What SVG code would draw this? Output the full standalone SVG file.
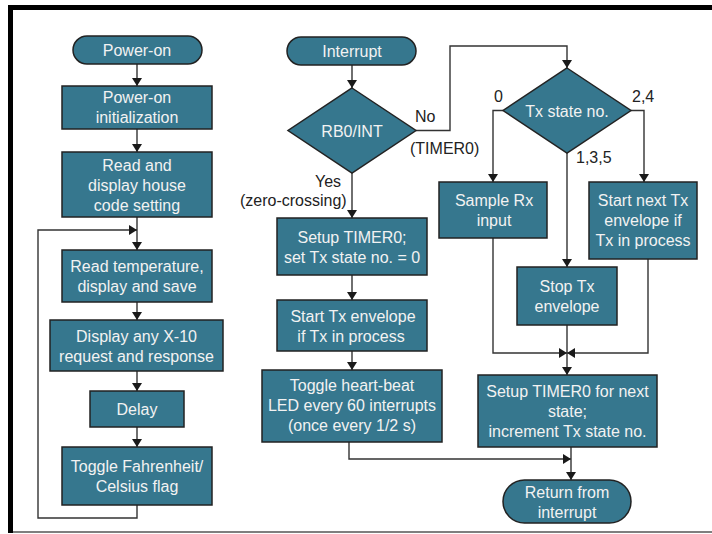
<svg xmlns="http://www.w3.org/2000/svg" width="712" height="534" viewBox="0 0 712 534">
<style>
.box{fill:#36778e;stroke:#222;stroke-width:1.5}
.t{font-family:"Liberation Sans",Arial,sans-serif;font-size:16px;fill:#f2f2f2;text-anchor:middle}
.lbl{font-family:"Liberation Sans",Arial,sans-serif;font-size:16px;fill:#222}
.c{fill:none;stroke:#333;stroke-width:1.4}
</style>
<defs>
<marker id="ah" viewBox="0 0 8 10" refX="8" refY="5" markerWidth="8" markerHeight="10" markerUnits="userSpaceOnUse" orient="auto">
<path d="M0,0 L8,5 L0,10 z" fill="#1a1a1a"/>
</marker>
</defs>
<rect x="0" y="0" width="712" height="534" fill="#fff"/>
<g id="frame">
<rect x="8" y="5" width="704" height="5" fill="#000"/>
<rect x="8" y="5" width="5" height="528" fill="#000"/>
<line x1="13" y1="532" x2="712" y2="532" stroke="#555" stroke-width="1.5"/>
</g>
<g id="connectors">
<path class="c" d="M137,64 V86" marker-end="url(#ah)"/>
<path class="c" d="M137,129 V152" marker-end="url(#ah)"/>
<path class="c" d="M137,217 V250" marker-end="url(#ah)"/>
<path class="c" d="M137,302 V320" marker-end="url(#ah)"/>
<path class="c" d="M137,371 V391" marker-end="url(#ah)"/>
<path class="c" d="M137,427 V447" marker-end="url(#ah)"/>
<path class="c" d="M137,505 V518 H38 V230 H137" marker-end="url(#ah)"/>
<path class="c" d="M352,65 V88" marker-end="url(#ah)"/>
<path class="c" d="M352,173 V218" marker-end="url(#ah)"/>
<path class="c" d="M352,275 V300" marker-end="url(#ah)"/>
<path class="c" d="M352,351 V370" marker-end="url(#ah)"/>
<path class="c" d="M349,442 V459 H571" marker-end="url(#ah)"/>
<path class="c" d="M416,130.5 H450 V46 H567 V68" marker-end="url(#ah)"/>
<path class="c" d="M503,110.5 H493 V182" marker-end="url(#ah)"/>
<path class="c" d="M631,110.5 H644 V182" marker-end="url(#ah)"/>
<path class="c" d="M567,153 V267" marker-end="url(#ah)"/>
<path class="c" d="M493,238 V353 H567" marker-end="url(#ah)"/>
<path class="c" d="M648,259 V353 H567" marker-end="url(#ah)"/>
<path class="c" d="M567,325 V375" marker-end="url(#ah)"/>
<path class="c" d="M571,447 V480" marker-end="url(#ah)"/>
</g>
<g id="labels">
<text class="lbl" x="415" y="122">No</text>
<text class="lbl" x="410" y="154">(TIMER0)</text>
<text class="lbl" x="315" y="187">Yes</text>
<text class="lbl" x="240" y="206">(zero-crossing)</text>
<text class="lbl" x="494" y="102">0</text>
<text class="lbl" x="632" y="102">2,4</text>
<text class="lbl" x="576" y="163">1,3,5</text>
</g>
<g id="power-on">
<rect class="box" x="73" y="36" width="129" height="28" rx="14"/>
<text class="t" x="137" y="56">Power-on</text>
</g>
<g id="init">
<rect class="box" x="62" y="86" width="150" height="43"/>
<text class="t" x="137" y="103">Power-on</text>
<text class="t" x="137" y="123">initialization</text>
</g>
<g id="read-house">
<rect class="box" x="62" y="152" width="150" height="65"/>
<text class="t" x="137" y="170.5">Read and</text>
<text class="t" x="137" y="190.5">display house</text>
<text class="t" x="137" y="210.5">code setting</text>
</g>
<g id="read-temp">
<rect class="box" x="62" y="250" width="150" height="52"/>
<text class="t" x="137" y="272">Read temperature,</text>
<text class="t" x="137" y="292">display and save</text>
</g>
<g id="display-x10">
<rect class="box" x="50" y="320" width="173" height="51"/>
<text class="t" x="136.5" y="341.5">Display any X-10</text>
<text class="t" x="136.5" y="361.5">request and response</text>
</g>
<g id="delay">
<rect class="box" x="90" y="391" width="94" height="36"/>
<text class="t" x="137" y="415">Delay</text>
</g>
<g id="toggle-f">
<rect class="box" x="62" y="447" width="150" height="58"/>
<text class="t" x="137" y="472">Toggle Fahrenheit/</text>
<text class="t" x="137" y="492">Celsius flag</text>
</g>
<g id="interrupt">
<rect class="box" x="287" y="37" width="129" height="28" rx="14"/>
<text class="t" x="352" y="57">Interrupt</text>
</g>
<g id="rb0">
<polygon class="box" points="352,88 416,130.5 352,173 288,130.5"/>
<text class="t" x="352" y="137">RB0/INT</text>
</g>
<g id="setup-timer0">
<rect class="box" x="277" y="218" width="150" height="57"/>
<text class="t" x="352" y="243">Setup TIMER0;</text>
<text class="t" x="352" y="262.5">set Tx state no. = 0</text>
</g>
<g id="start-tx">
<rect class="box" x="277" y="300" width="150" height="51"/>
<text class="t" x="353" y="321.5">Start Tx envelope</text>
<text class="t" x="351" y="341.5">if Tx in process</text>
</g>
<g id="toggle-hb">
<rect class="box" x="262" y="370" width="180" height="72"/>
<text class="t" x="352" y="391">Toggle heart-beat</text>
<text class="t" x="352" y="411">LED every 60 interrupts</text>
<text class="t" x="352" y="431">(once every 1/2 s)</text>
</g>
<g id="tx-state">
<polygon class="box" points="567,68 631,110.5 567,153 503,110.5"/>
<text class="t" x="567" y="117">Tx state no.</text>
</g>
<g id="sample-rx">
<rect class="box" x="439" y="182" width="108" height="56"/>
<text class="t" x="494" y="205.5">Sample Rx</text>
<text class="t" x="494" y="225.5">input</text>
</g>
<g id="start-next">
<rect class="box" x="589" y="182" width="108" height="77"/>
<text class="t" x="643" y="206">Start next Tx</text>
<text class="t" x="643" y="226">envelope if</text>
<text class="t" x="643" y="246">Tx in process</text>
</g>
<g id="stop-tx">
<rect class="box" x="517" y="267" width="100" height="58"/>
<text class="t" x="567" y="292">Stop Tx</text>
<text class="t" x="567" y="312">envelope</text>
</g>
<g id="setup-next">
<rect class="box" x="478" y="375" width="179" height="72"/>
<text class="t" x="567.5" y="397">Setup TIMER0 for next</text>
<text class="t" x="567.5" y="417">state;</text>
<text class="t" x="567.5" y="437">increment Tx state no.</text>
</g>
<g id="return">
<rect class="box" x="503" y="480" width="128" height="43" rx="21.5"/>
<text class="t" x="567" y="497.5">Return from</text>
<text class="t" x="567" y="517.5">interrupt</text>
</g>
</svg>
